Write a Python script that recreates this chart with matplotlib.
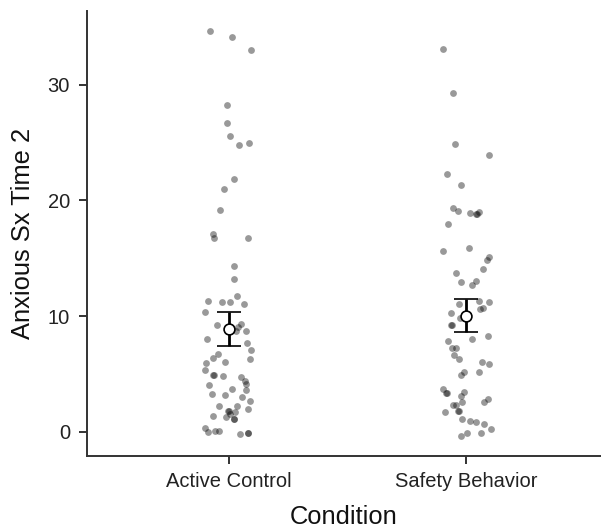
import matplotlib
matplotlib.use("Agg")
import matplotlib.pyplot as plt
import numpy as np

categories = ["Active Control", "Safety Behavior"]

ac_values = [34.63, 34.14, 32.96, 28.28, 26.67, 25.57, 24.77, 24.97, 21.81, 21.0,
             19.16, 17.13, 16.72, 16.72, 14.28, 13.16, 11.72, 11.32, 11.18, 11.18,
             11.0, 10.37, 9.22, 9.28, 9.08, 8.71, 8.73, 8.05, 7.64, 7.04,
             6.70, 6.41, 6.26, 5.92, 6.0, 5.34, 4.88, 4.88, 4.85, 4.74,
             4.34, 4.11, 4.02, 3.62, 3.71, 3.30, 3.13, 3.02, 2.67, 2.24,
             2.24, 1.81, 1.81, 1.72, 1.95, 1.49, 1.29, 1.12, 1.12, 1.35,
             0.34, 0.0, 0.09, 0.09, -0.17, -0.09, -0.09]
ac_jitter = [-0.080, 0.014, 0.093, -0.011, -0.007, 0.005, 0.042, 0.084, 0.021, -0.021,
             -0.038, -0.070, -0.062, 0.079, 0.021, 0.020, 0.035, -0.088, -0.032, 0.004,
             0.062, -0.100, -0.052, 0.049, 0.038, 0.031, 0.070, -0.093, 0.076, 0.091,
             -0.045, -0.070, 0.087, -0.096, -0.016, -0.101, -0.066, -0.062, -0.024, 0.052,
             0.067, 0.073, -0.083, 0.070, 0.013, -0.073, -0.018, 0.056, 0.086, -0.042,
             0.034, -0.005, -0.002, 0.025, 0.079, 0.004, -0.014, 0.022, 0.020, -0.066,
             -0.102, -0.091, -0.059, -0.042, 0.045, 0.081, 0.081]

sb_values = [33.07, 29.31, 24.89, 23.88, 22.24, 21.32, 19.34, 19.08, 18.91, 18.85,
             18.85, 18.97, 17.99, 15.63, 15.92, 15.09, 14.85, 14.08, 13.68, 12.91,
             13.02, 12.67, 11.32, 11.23, 11.0, 10.63, 10.69, 10.23, 9.85, 9.22,
             9.22, 7.99, 8.28, 7.87, 7.21, 7.21, 6.66, 6.32, 6.03, 5.89,
             5.20, 5.17, 4.91, 3.71, 3.33, 3.33, 3.39, 3.05, 2.61, 2.84,
             2.59, 2.27, 2.27, 1.81, 1.81, 1.67, 1.12, 0.95, 0.80, 0.66,
             0.26, -0.09, -0.09, -0.34]
sb_jitter = [-0.099, -0.057, -0.049, 0.097, -0.080, -0.024, -0.057, -0.036, 0.016, 0.041,
             0.043, 0.051, -0.076, -0.097, 0.011, 0.096, 0.086, 0.070, -0.045, -0.025,
             0.040, 0.023, 0.054, 0.097, -0.031, 0.058, 0.070, -0.067, -0.028, -0.066,
             -0.062, 0.024, 0.090, -0.078, -0.059, -0.043, -0.052, -0.032, 0.065, 0.096,
             0.051, -0.011, -0.022, -0.098, -0.086, -0.083, -0.011, -0.025, -0.019, 0.090,
             0.075, -0.057, -0.042, -0.035, -0.033, -0.090, -0.018, 0.013, 0.041, 0.076,
             0.103, 0.004, 0.063, -0.024]

means = [8.85, 10.0]
ci_low = [7.44, 8.59]
ci_high = [10.34, 11.49]

yticks = [0, 10, 20, 30]

plt.rcParams['font.family'] = ['Liberation Sans', 'DejaVu Sans']

fig = plt.figure(figsize=(6.01, 5.30), dpi=100)
ax = fig.add_axes([0.1443, 0.1396, 0.8557, 0.8394])

xs = [1, 2]
for x0, vals, jit in [(xs[0], ac_values, ac_jitter), (xs[1], sb_values, sb_jitter)]:
    ax.scatter(np.array(jit) + x0, vals, s=24, color='black', alpha=0.4,
               linewidths=0, zorder=2)

means_a = np.array(means)
yerr = np.vstack([means_a - np.array(ci_low), np.array(ci_high) - means_a])
ax.errorbar(xs, means, yerr=yerr, fmt='o', color='black', ecolor='black',
            elinewidth=2.0, capsize=8.3, capthick=2.0, markersize=7.8,
            markerfacecolor='white', markeredgecolor='black', markeredgewidth=1.2,
            zorder=3)

ax.set_xlim(0.4, 2.567)
ax.set_ylim(-2.1, 36.35)
ax.set_xticks(xs)
ax.set_xticklabels(categories)
ax.set_yticks(yticks)

for s in ['top', 'right']:
    ax.spines[s].set_visible(False)
for s in ['left', 'bottom']:
    ax.spines[s].set_linewidth(1.4)
    ax.spines[s].set_color('#333333')

ax.tick_params(axis='both', colors='#333333', width=1.4, length=5.5,
               labelsize=14.5, labelcolor='#222222')
ax.tick_params(axis='y', pad=6.5)
ax.tick_params(axis='x', pad=6)

ax.set_xlabel('Condition', fontsize=18.4, color='#111111', labelpad=10)
ax.set_ylabel('Anxious Sx Time 2', fontsize=18.4, color='#111111', labelpad=9)

fig.savefig('out.png', dpi=100)
